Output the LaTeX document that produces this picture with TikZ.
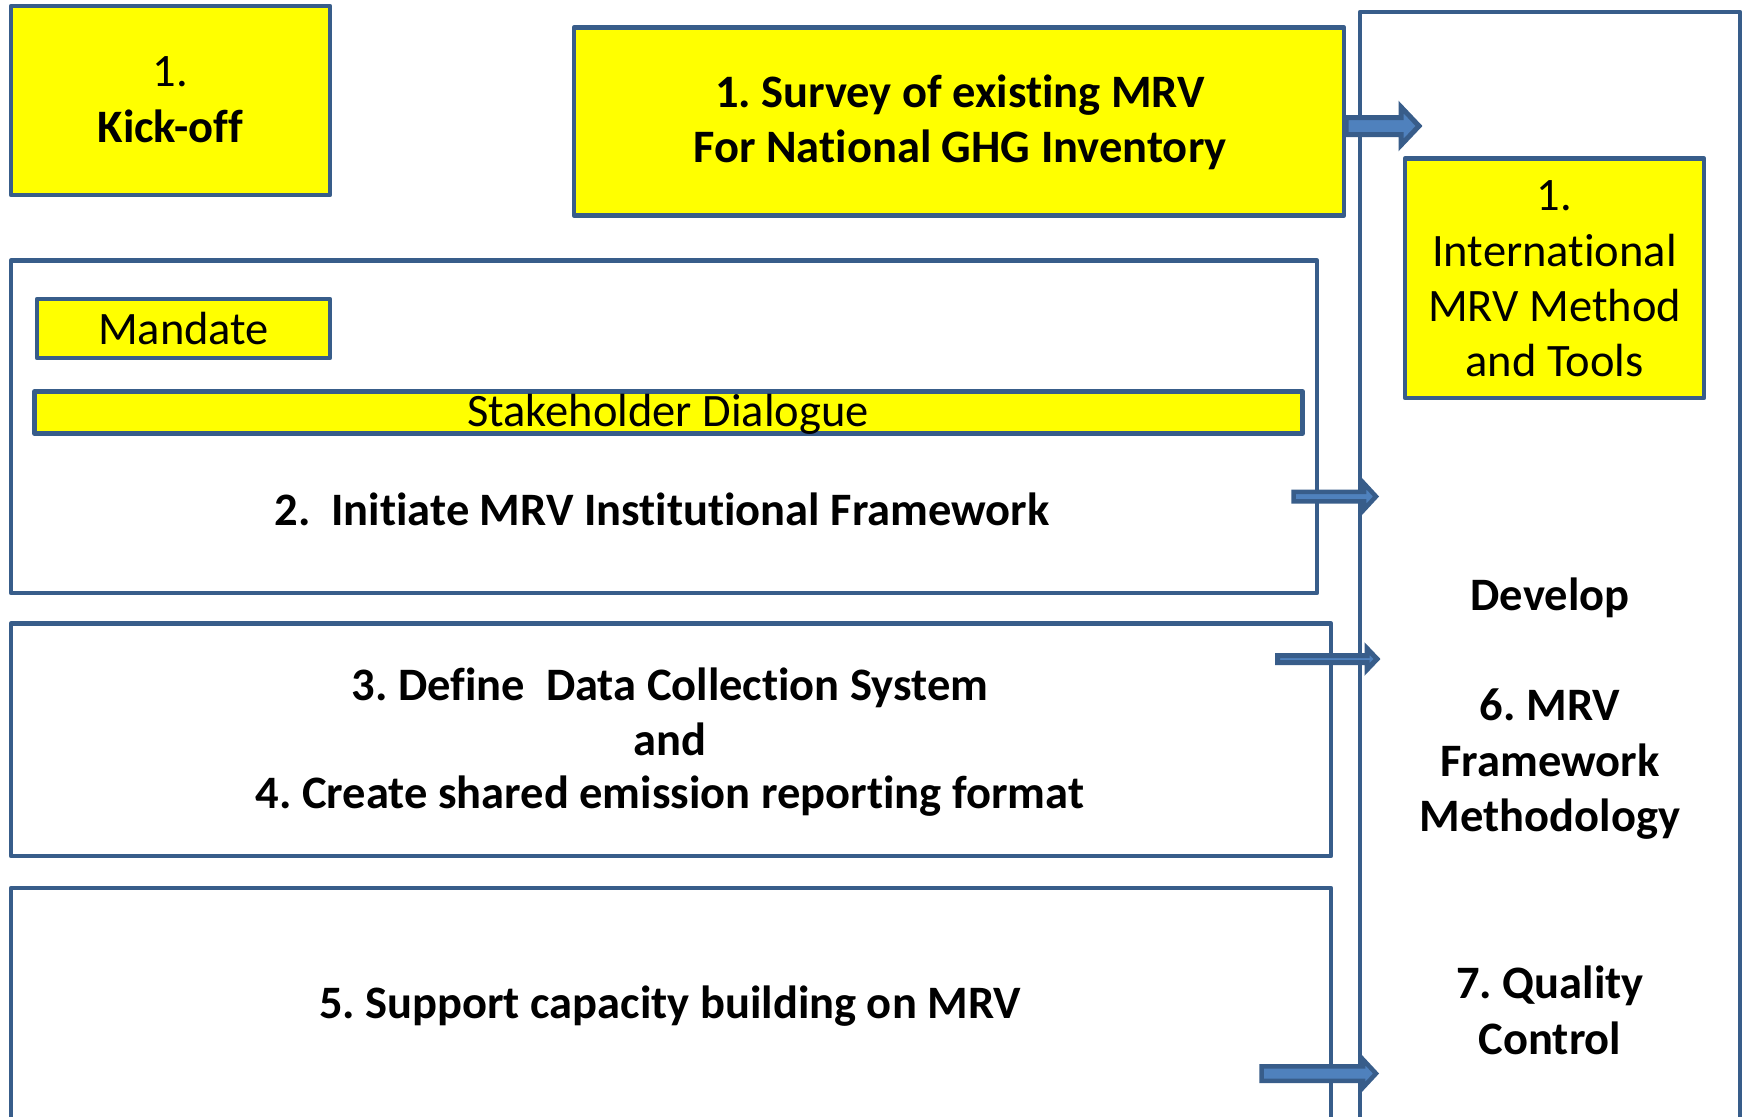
\documentclass[tikz,border=0pt]{standalone}
\usepackage{fontspec}
\setmainfont{Carlito}[Ligatures=NoCommon]
\usetikzlibrary{calc}
\definecolor{bord}{RGB}{56,93,138}
\definecolor{afill}{RGB}{79,129,189}
\definecolor{yfill}{RGB}{255,255,0}
% #1 style, #2 start coord, #3 tip coord, #4 shaft half, #5 head half, #6 head length
\newcommand\blockarrow[6]{%
  \draw[#1] ($(#2)+(0,#4)$) -- ($(#3)+(-#6,#4)$) -- ($(#3)+(-#6,#5)$) -- (#3)
    -- ($(#3)+(-#6,-#5)$) -- ($(#3)+(-#6,-#4)$) -- ($(#2)+(0,-#4)$) -- cycle;}
\begin{document}
\frenchspacing
\begin{tikzpicture}[x=1pt,y=-1pt,
  box/.style={draw=bord,line width=4.5pt,line join=round,inner sep=0pt,outer sep=0pt,anchor=north west},
  ybox/.style={box,fill=yfill},
  wbox/.style={box,fill=white},
  txt/.style={inner sep=0pt,anchor=base,font=\fontsize{46.5}{56}\selectfont\frenchspacing},
  btxt/.style={inner sep=0pt,anchor=base,font=\fontsize{46.5}{56}\selectfont\bfseries\frenchspacing},
  arr/.style={draw=bord,fill=afill,line width=5pt,line join=miter}]
\fill[white] (0,0) rectangle (1744,1116);
\useasboundingbox (0,0) rectangle (1744,1116);
\clip (0,0) rectangle (1744,1116);

% boxes
\node[wbox,minimum width=380pt,minimum height=1200pt] (devcol) at (1360,12) {};
\node[ybox,minimum width=319pt,minimum height=189pt] (kick) at (11,6) {};
\node[ybox,minimum width=770pt,minimum height=188pt] (survey) at (574,27.5) {};
\node[ybox,minimum width=299pt,minimum height=239.5pt] (intl) at (1405,158.5) {};
\node[wbox,minimum width=1306pt,minimum height=332.5pt] (inst) at (11,260.5) {};
\node[ybox,minimum width=293pt,minimum height=59pt] (mandate) at (37,299) {};
\node[ybox,minimum width=1268pt,minimum height=42pt] (stake) at (34.5,391.5) {};
\node[wbox,minimum width=1320pt,minimum height=232.5pt] (data) at (11,623.5) {};
\node[wbox,minimum width=1320pt,minimum height=400pt] (cap) at (11,888) {};

% texts
\node[txt] (kick1) at (170.5,86) {1.};
\node[btxt] (kick2) at (170.5,142) {Kick-off};
\node[btxt] (surv1) at (960,107) {1. Survey of existing MRV};
\node[btxt] (surv2) at (960,162) {For National GHG Inventory};
\node[txt] (intl1) at (1554.5,210) {1.};
\node[txt] (intl2) at (1554.5,266) {International};
\node[txt] (intl3) at (1554.5,321) {MRV Method};
\node[txt] (intl4) at (1554.5,376) {and Tools};
\node[txt] (mand) at (183.5,344) {Mandate};
\node[txt] (stk) at (668,426) {Stakeholder Dialogue};
\node[btxt] (ini) at (662,525) {2.\ \ Initiate MRV Institutional Framework};
\node[btxt] (dat1) at (670,700) {3. Define\ \ Data Collection System};
\node[btxt] (dat2) at (670,755) {and};
\node[btxt] (dat3) at (670,808) {4. Create shared emission reporting format};
\node[btxt] (sup) at (670,1018) {5. Support capacity building on MRV};
\node[btxt] (dev) at (1550,610) {Develop};
\node[btxt] (mrv1) at (1550,720) {6. MRV};
\node[btxt] (mrv2) at (1550,776) {Framework};
\node[btxt] (mrv3) at (1550,831) {Methodology};
\node[btxt] (qc1) at (1550,998) {7. Quality};
\node[btxt] (qc2) at (1550,1054) {Control};

% arrows
\coordinate (a1s) at (1346,126);
\coordinate (a1t) at (1419,126);
\coordinate (a2s) at (1293.5,496.5);
\coordinate (a2t) at (1376,496.5);
\coordinate (a3s) at (1277.5,659);
\coordinate (a3t) at (1377,659);
\coordinate (a4s) at (1261.5,1073.5);
\coordinate (a4t) at (1376,1073.5);
\blockarrow{arr}{a1s}{a1t}{8.5}{19}{18}
\blockarrow{arr,line width=4.5pt}{a2s}{a2t}{4.75}{13}{12}
\blockarrow{arr}{a3s}{a3t}{3.5}{10.5}{10}
\blockarrow{arr,line width=4.5pt}{a4s}{a4t}{7.25}{14}{13}
\end{tikzpicture}
\end{document}
